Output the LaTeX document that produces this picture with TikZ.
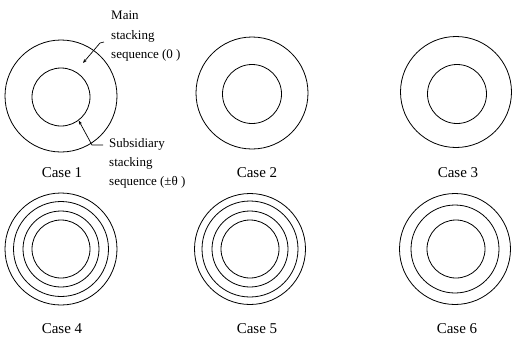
\documentclass[tikz,border=0pt]{standalone}
\usepackage{fontspec}
\setmainfont{Liberation Serif}
\usetikzlibrary{arrows.meta}
\begin{document}
\begin{tikzpicture}[x=1pt,y=-1pt,
  ring/.style={draw, circle, line width=0.8pt, inner sep=0pt},
  caselabel/.style={anchor=base, inner sep=0pt, font=\fontsize{15}{18}\selectfont},
  note/.style={anchor=base west, inner sep=0pt, font=\fontsize{13}{16}\selectfont},
  leader/.style={line width=0.7pt, -{Stealth[length=4pt,width=3pt]}}]
\useasboundingbox (0,0) rectangle (512,338);
% Row 1
\node[ring, minimum size=112pt] (c1o) at (61,96) {};
\node[ring, minimum size=58pt]  (c1i) at (61,97) {};
\node[ring, minimum size=112pt] (c2o) at (252,93) {};
\node[ring, minimum size=59pt]  (c2i) at (252,94) {};
\node[ring, minimum size=111pt] (c3o) at (456,92) {};
\node[ring, minimum size=59pt]  (c3i) at (457,94) {};
\node[caselabel] (l1) at (62,177) {Case 1};
\node[caselabel] (l2) at (257,177) {Case 2};
\node[caselabel] (l3) at (458,177) {Case 3};
% Row 2
\node[ring, minimum size=112pt] (c4a) at (61,249) {};
\node[ring, minimum size=95pt]  (c4b) at (61,249) {};
\node[ring, minimum size=76pt]  (c4c) at (61,249) {};
\node[ring, minimum size=58pt]  (c4d) at (61,249) {};
\node[ring, minimum size=111pt] (c5a) at (250,249) {};
\node[ring, minimum size=96pt]  (c5b) at (250,249) {};
\node[ring, minimum size=76pt]  (c5c) at (250,249) {};
\node[ring, minimum size=58pt]  (c5d) at (250,249) {};
\node[ring, minimum size=111pt] (c6a) at (455,249) {};
\node[ring, minimum size=88pt]  (c6b) at (455,249) {};
\node[ring, minimum size=58pt]  (c6c) at (456,249) {};
\node[caselabel] (l4) at (62,333) {Case 4};
\node[caselabel] (l5) at (257,333) {Case 5};
\node[caselabel] (l6) at (457,333) {Case 6};
% Annotations
\node[note] (m1) at (111,19) {Main};
\node[note] (m2) at (111,39) {stacking};
\node[note] (m3) at (111,58) {sequence (0 )};
\node[note] (s1) at (109,147) {Subsidiary};
\node[note] (s2) at (109,166) {stacking};
\node[note] (s3) at (109,185) {sequence (±θ )};
\coordinate (mt) at (104,42);
\coordinate (mk) at (100,43);
\coordinate (mh) at (83,63);
\draw[leader] (mt) -- (mk) -- (mh);
\coordinate (st) at (103,145);
\coordinate (sk) at (92,145);
\draw[leader] (st) -- (sk) -- (c1i.-53);
\end{tikzpicture}
\end{document}
